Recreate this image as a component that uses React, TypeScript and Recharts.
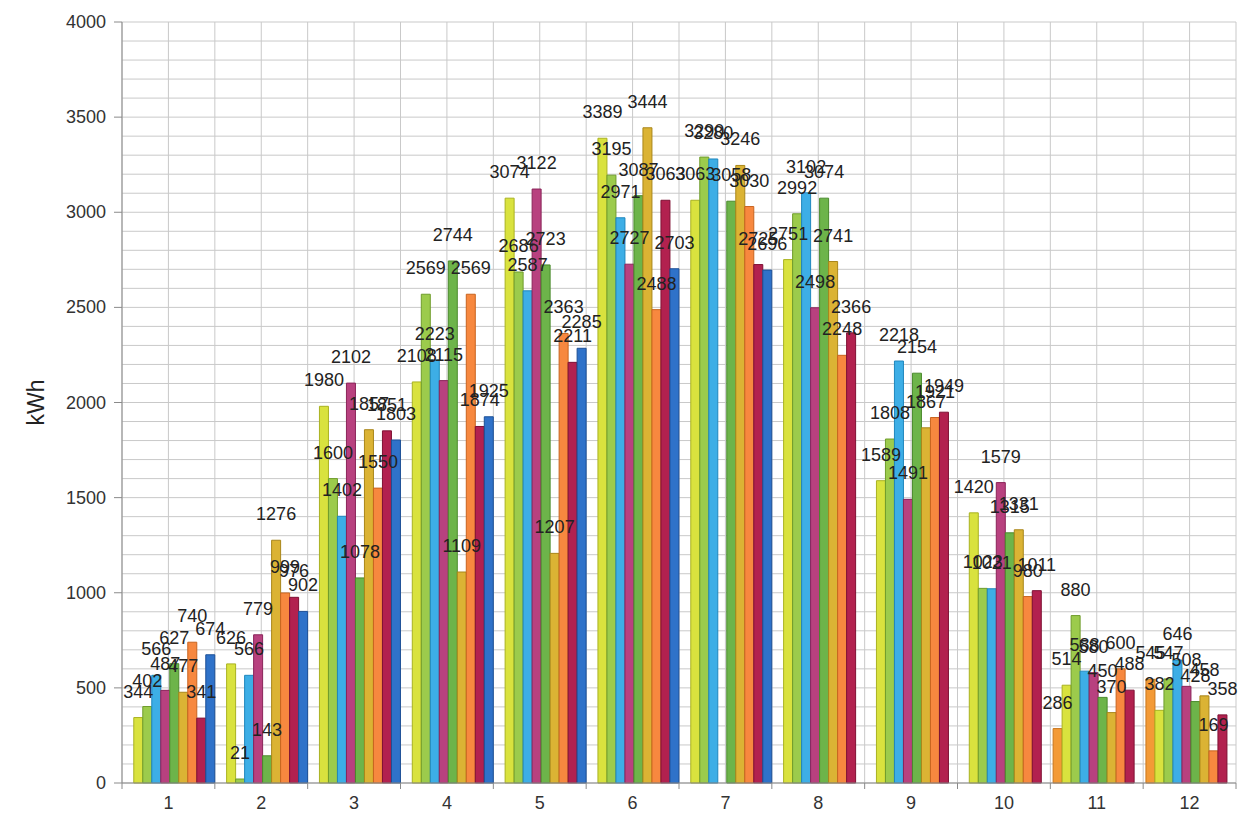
import React from 'react';
import { BarChart, Bar, XAxis, YAxis, CartesianGrid, LabelList } from 'recharts';

// Monthly energy yield (kWh), one series per year of operation
const months = ['1', '2', '3', '4', '5', '6', '7', '8', '9', '10', '11', '12'];

const s0 = [null, null, null, null, null, null, null, null, null, null, 286, 545];
const s1 = [344, 626, 1980, 2108, 3074, 3389, 3063, 2751, 1589, 1420, 514, 382];
const s2 = [402, 21, 1600, 2569, 2686, 3195, 3290, 2992, 1808, 1023, 880, 547];
const s3 = [566, 566, 1402, 2223, 2587, 2971, 3280, 3102, 2218, 1021, 588, 646];
const s4 = [487, 779, 2102, 2115, 3122, 2727, null, 2498, 1491, 1579, 580, 508];
const s5 = [627, 143, 1078, 2744, 2723, 3087, 3058, 3074, 2154, 1315, 450, 428];
const s6 = [477, 1276, 1857, 1109, 1207, 3444, 3246, 2741, 1867, 1331, 370, 458];
const s7 = [740, 999, 1550, 2569, 2363, 2488, 3030, 2248, 1921, 980, 600, 169];
const s8 = [341, 976, 1851, 1874, 2211, 3063, 2725, 2366, 1949, 1011, 488, 358];
const s9 = [674, 902, 1803, 1925, 2285, 2703, 2696, null, null, null, null, null];

const seriesValues = [s0, s1, s2, s3, s4, s5, s6, s7, s8, s9];
const seriesKeys = ['s0', 's1', 's2', 's3', 's4', 's5', 's6', 's7', 's8', 's9'];

const seriesFill = [
  '#f39a36', '#d9e23e', '#9ccb4c', '#3daee6', '#b8417f',
  '#6db44a', '#dbb334', '#f7883f', '#b2214f', '#2f72c9',
];
const seriesStroke = [
  '#c9761c', '#a9b220', '#6f9c2c', '#1f86bd', '#8a2459',
  '#4a8a2c', '#a9861a', '#c8641f', '#7f1034', '#1c4f96',
];

const yTicks = Array.from({ length: 41 }, (_, i) => i * 100);

const data = months.map((m, i) => {
  const row: Record<string, any> = { month: m };
  seriesKeys.forEach((k, j) => {
    row[k] = seriesValues[j][i];
  });
  return row;
});

const FONT = '"Liberation Sans", Arial, sans-serif';
const CHART_W = 1238;
const CHART_H = 822;
const MARGIN = { top: 22, right: 2, bottom: 9, left: 0 };
const Y_AXIS_W = 122;
const X_AXIS_H = 30;
const PLOT_W = CHART_W - MARGIN.left - MARGIN.right - Y_AXIS_W;
const BAND = PLOT_W / months.length;

const YTick = (props: any) => {
  const { x, y, payload } = props;
  if (payload.value % 500 !== 0) return null;
  return (
    <g>
      <line x1={x - 8} y1={y} x2={x} y2={y} stroke="#8a8a8a" strokeWidth={1} />
      <text x={x - 16} y={y + 6} textAnchor="end" fontSize={18} fill="#333" fontFamily={FONT}>
        {payload.value}
      </text>
    </g>
  );
};

const XTick = (props: any) => {
  const { x, y, payload, index } = props;
  const left = x - BAND / 2;
  const right = x + BAND / 2;
  return (
    <g>
      <line x1={left} y1={y} x2={left} y2={y + 6} stroke="#8a8a8a" strokeWidth={1} />
      {index === months.length - 1 && (
        <line x1={right} y1={y} x2={right} y2={y + 6} stroke="#8a8a8a" strokeWidth={1} />
      )}
      <text x={x} y={y + 26} textAnchor="middle" fontSize={18} fill="#333" fontFamily={FONT}>
        {payload.value}
      </text>
    </g>
  );
};

const ValueLabel = (props: any) => {
  const { x, y, width, value } = props;
  if (value === null || value === undefined) return null;
  return (
    <text
      x={x + width / 2}
      y={y - 20}
      textAnchor="middle"
      fontSize={18}
      fill="#222"
      fontFamily={FONT}
    >
      {value}
    </text>
  );
};

const YTitle = (props: any) => {
  const { viewBox } = props;
  const cy = viewBox.y + viewBox.height / 2;
  return (
    <text
      x={36}
      y={cy}
      transform={`rotate(-90, 36, ${cy})`}
      textAnchor="middle"
      dominantBaseline="central"
      fontSize={23}
      fill="#222"
      fontFamily={FONT}
    >
      kWh
    </text>
  );
};

export default function App() {
  return (
    <div style={{ position: 'absolute', left: 0, top: 0, background: '#fff' }}>
      <BarChart
        width={CHART_W}
        height={CHART_H}
        data={data}
        margin={MARGIN}
        barCategoryGap="3%"
        barGap={0}
      >
        <CartesianGrid
          stroke="#c9c9c9"
          strokeWidth={1}
          verticalCoordinatesGenerator={({ offset }: any) =>
            Array.from({ length: months.length * 2 + 1 }, (_, i) => offset.left + (i * offset.width) / (months.length * 2))
          }
        />
        <XAxis
          dataKey="month"
          height={X_AXIS_H}
          tickSize={0}
          tickMargin={0}
          tickLine={false}
          axisLine={{ stroke: '#8a8a8a' }}
          tick={<XTick />}
          interval={0}
        />
        <YAxis
          width={Y_AXIS_W}
          domain={[0, 4000]}
          ticks={yTicks}
          interval={0}
          tickSize={0}
          tickMargin={0}
          tickLine={false}
          axisLine={{ stroke: '#8a8a8a' }}
          tick={<YTick />}
          label={<YTitle />}
        />
        {seriesKeys.map((k, j) => (
          <Bar
            key={k}
            dataKey={k}
            fill={seriesFill[j]}
            stroke={seriesStroke[j]}
            strokeWidth={1}
            isAnimationActive={false}
          >
            <LabelList dataKey={k} content={<ValueLabel />} />
          </Bar>
        ))}
      </BarChart>
    </div>
  );
}
